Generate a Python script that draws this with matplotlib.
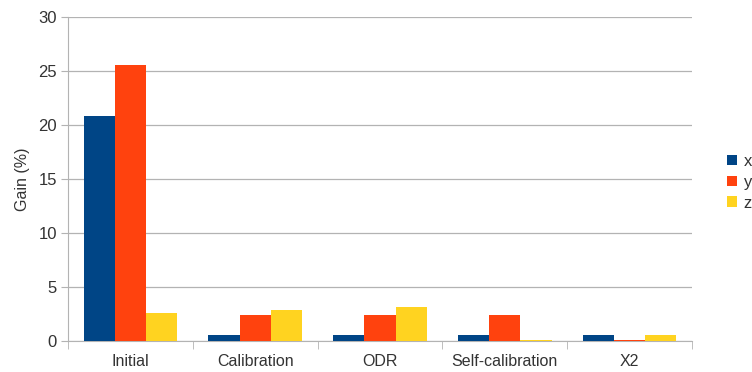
import matplotlib.pyplot as plt
import numpy as np

plt.rcParams["font.family"] = ["Liberation Sans", "DejaVu Sans"]

categories = ["Initial", "Calibration", "ODR", "Self-calibration", "X2"]
gain_x = [20.8, 0.56, 0.56, 0.56, 0.56]
gain_y = [25.6, 2.38, 2.38, 2.38, 0.1]
gain_z = [2.6, 2.88, 3.18, 0.05, 0.58]
series_names = ["x", "y", "z"]
colors = ["#004586", "#ff420e", "#ffd320"]

grid_col = "#b3b3b3"
text_col = "#333333"

fig = plt.figure(figsize=(7.52, 3.72), dpi=100)
ax = fig.add_axes([68 / 752, 31 / 372, 624 / 752, 324 / 372])

x = np.arange(len(categories))
width = 0.25
for i, (vals, name, col) in enumerate(zip([gain_x, gain_y, gain_z], series_names, colors)):
    ax.bar(x + (i - 1) * width, vals, width, color=col, label=name, zorder=3)

ax.set_xlim(-0.5, len(categories) - 0.5)
ax.set_ylim(0, 30)
ax.set_yticks(np.arange(0, 31, 5))
ax.set_xticks(x)
ax.set_xticklabels(categories)
ax.set_xticks(np.arange(-0.5, len(categories), 1), minor=True)
ax.tick_params(axis="x", which="major", length=0, pad=9, labelsize=11.5, labelcolor=text_col)
ax.tick_params(axis="x", which="minor", length=6, color=grid_col)
ax.tick_params(axis="y", length=5, color=grid_col, labelsize=12, labelcolor=text_col, pad=3)

ax.yaxis.grid(True, color=grid_col, linewidth=0.9, zorder=0)
for side in ["top", "right"]:
    ax.spines[side].set_visible(False)
for side in ["left", "bottom"]:
    ax.spines[side].set_color(grid_col)
ax.set_ylabel("Gain (%)", fontsize=11.5, color=text_col, labelpad=6)

ax.legend(loc="center left", bbox_to_anchor=(1.032, 0.49), frameon=False,
          handlelength=0.6, handleheight=0.6, handletextpad=0.4,
          labelspacing=0.35, fontsize=12, labelcolor=text_col)

fig.savefig("out.png", dpi=100)
